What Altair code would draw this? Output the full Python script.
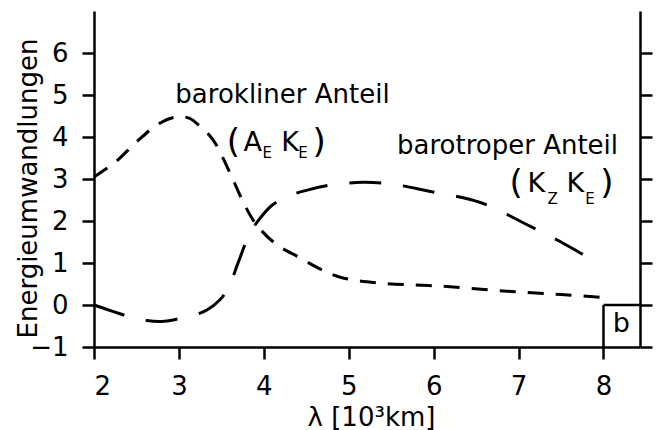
import altair as alt
import pandas as pd

# Baroclinic conversion (A_E K_E) against wavelength
baro_x = [2.0, 2.25, 2.5, 2.75, 2.95, 3.12, 3.25, 3.4, 3.6, 3.76, 3.91, 4.15, 4.42, 4.66, 4.9, 5.37, 6.07, 6.86, 7.5, 8.0]
baro_y = [3.05, 3.4, 3.88, 4.3, 4.47, 4.45, 4.25, 3.94, 3.15, 2.44, 1.92, 1.44, 1.13, 0.86, 0.66, 0.52, 0.45, 0.33, 0.25, 0.18]

# Barotropic conversion (K_Z K_E) against wavelength
trop_x = [2.0, 2.22, 2.45, 2.62, 2.8, 2.97, 3.15, 3.33, 3.48, 3.58, 3.7, 3.83, 3.95, 4.1, 4.3, 4.5, 4.8, 5.17, 5.5, 5.92, 6.55, 7.14, 7.5, 7.76, 7.96]
trop_y = [0.0, -0.15, -0.3, -0.37, -0.39, -0.34, -0.26, -0.12, 0.12, 0.4, 1.02, 1.68, 2.05, 2.38, 2.6, 2.73, 2.86, 2.92, 2.88, 2.72, 2.44, 1.87, 1.5, 1.2, 0.98]

x_ticks = [2, 3, 4, 5, 6, 7, 8]
y_ticks = [-1, 0, 1, 2, 3, 4, 5, 6]
X_DOMAIN = [2, 8.43]
Y_DOMAIN = [-1, 7]

FONT = "DejaVu Sans"

baro = pd.DataFrame({"lam": baro_x, "val": baro_y})
trop = pd.DataFrame({"lam": trop_x, "val": trop_y})

xs = alt.Scale(domain=X_DOMAIN, nice=False, zero=False)
ys = alt.Scale(domain=Y_DOMAIN, nice=False, zero=False)

x_enc = alt.X(
    "lam:Q", scale=xs,
    axis=alt.Axis(
        values=x_ticks, format="d", title="λ [10³km]", labelPadding=14,
        titleX=277, titleY=70, titleAlign="center", titleBaseline="middle",
        titleFontSize=26,
    ),
)
y_enc = alt.Y(
    "val:Q", scale=ys,
    axis=alt.Axis(
        values=y_ticks, format="d", title="Energieumwandlungen", labelPadding=14,
        titleX=-66, titleY=177, titleAngle=270, titleAlign="center",
        titleBaseline="middle",
    ),
)

baro_line = alt.Chart(baro).mark_line(
    color="black", strokeWidth=3, strokeDash=[16, 12], interpolate="catmull-rom"
).encode(x=x_enc, y=y_enc)

trop_line = alt.Chart(trop).mark_line(
    color="black", strokeWidth=3, strokeDash=[32, 22], interpolate="catmull-rom"
).encode(x="lam:Q", y="val:Q")

# Panel-letter frame in the lower right corner
frame = pd.DataFrame({"x": [8.0, 8.0], "x2": [8.0, 8.43], "y": [-1.0, 0.0], "y2": [0.0, 0.0]})
frame_rules = alt.Chart(frame).mark_rule(color="black", strokeWidth=2.5).encode(
    x="x:Q", x2="x2:Q", y="y:Q", y2="y2:Q"
)

# Curve labels, with subscripts set as separate smaller glyphs
labels = pd.DataFrame({
    "text": ["barokliner Anteil", "(", "A", "E", "K", "E", ")",
             "barotroper Anteil", "(", "K", "Z", "K", "E", ")", "b"],
    "x": [4.22, 3.64, 3.87, 4.04, 4.31, 4.46, 4.65,
          6.87, 6.97, 7.21, 7.40, 7.67, 7.84, 8.04, 8.21],
    "y": [4.80, 3.62, 3.66, 3.50, 3.66, 3.50, 3.62,
          3.59, 2.64, 2.68, 2.40, 2.68, 2.40, 2.64, -0.65],
    "size": [26, 34, 27, 15, 27, 15, 34,
             26, 34, 27, 15, 27, 15, 34, 27],
})
label_marks = alt.Chart(labels).mark_text(
    font=FONT, color="black", align="center", baseline="alphabetic"
).encode(
    x="x:Q", y="y:Q", text="text:N",
    size=alt.Size("size:Q", scale=None, legend=None),
)

main = alt.layer(baro_line, trop_line, frame_rules, label_marks)

# Right-hand axis: ticks only
right = alt.Chart(pd.DataFrame({"val": [0]})).mark_point(opacity=0).encode(
    x="val:Q",
    y=alt.Y("val:Q", scale=ys,
            axis=alt.Axis(orient="right", values=y_ticks, labels=False, title=None)),
)

chart = alt.layer(main, right).resolve_scale(y="independent").properties(
    width=546, height=336,
    padding={"left": 94, "top": 11, "right": 20, "bottom": 83},
    autosize=alt.AutoSizeParams(type="none"),
).configure_view(stroke=None).configure_axis(
    grid=False,
    domainColor="black", domainWidth=2.5,
    tickColor="black", tickWidth=2.5, tickSize=12,
    labelFont=FONT, labelFontSize=26, labelColor="black",
    titleFont=FONT, titleFontSize=26, titleFontWeight="normal", titleColor="black",
)

chart.save("out.html", embed_options={"renderer": "svg", "actions": False})
